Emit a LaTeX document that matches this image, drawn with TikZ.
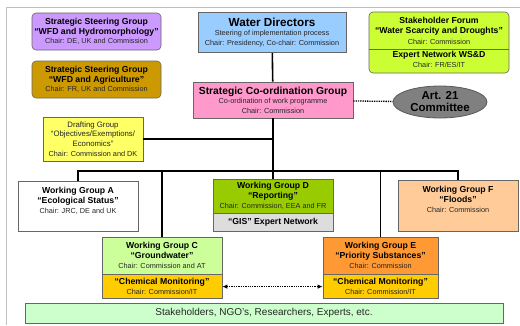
\documentclass[tikz,border=0pt]{standalone}
\usepackage{fontspec}
\setmainfont{Liberation Sans}
\usetikzlibrary{arrows.meta,shapes.geometric}

\definecolor{ssgviolet}{HTML}{CC99FF}
\definecolor{ssggold}{HTML}{CC9900}
\definecolor{wdblue}{HTML}{99CCFF}
\definecolor{sflime}{HTML}{CCFF33}
\definecolor{scgpink}{HTML}{FF99CC}
\definecolor{artgray}{HTML}{808080}
\definecolor{dgyellow}{HTML}{FFFF66}
\definecolor{wgdgreen}{HTML}{99CC00}
\definecolor{gisgray}{HTML}{DDDDDD}
\definecolor{wgfpeach}{HTML}{FFCC99}
\definecolor{wgcgreen}{HTML}{CCFF99}
\definecolor{wgeorange}{HTML}{FF9933}
\definecolor{chemgold}{HTML}{FFCC00}
\definecolor{stkgreen}{HTML}{CCFFCC}

\tikzset{
  grp/.style={draw=gray!80!black, line width=.6pt, align=center, inner sep=1pt,
    text=black!85, font=\fontsize{7.3}{9.7}\selectfont},
  link/.style={line width=1.6pt},
  dotlink/.style={line width=1.3pt, densely dotted},
}
\newcommand{\hd}[1]{{\fontsize{8.7}{10}\selectfont\bfseries\color{black}#1}}

\begin{document}
\begin{tikzpicture}[x=1pt,y=-1pt,>={Latex[length=5pt,width=4.5pt]}]
\useasboundingbox (0,0) rectangle (520,325);
\draw[black!25,line width=.8pt] (520,7) -- (6,7) -- (6,325);

\node[grp,rounded corners=4pt,fill=ssgviolet,minimum width=129pt,minimum height=37pt] (ssgh) at (96.5,31.5)
  {\hd{Strategic Steering Group}\\\hd{“WFD and Hydromorphology”}\\Chair: DE, UK and Commission};
\node[grp,rounded corners=4pt,fill=ssggold,minimum width=129pt,minimum height=37pt] (ssga) at (96.5,79.5)
  {\hd{Strategic Steering Group}\\\hd{“WFD and Agriculture”}\\Chair: FR, UK and Commission};
\node[grp,fill=wdblue,minimum width=148pt,minimum height=40pt] (wd) at (272,32.5)
  {{\fontsize{11.7}{13}\selectfont\bfseries\color{black}Water Directors}\\Steering of implementation process\\Chair: Presidency, Co-chair: Commission};
\node[grp,rounded corners=4pt,fill=sflime,minimum width=140pt,minimum height=61pt,font=\fontsize{7.3}{10.3}\selectfont] (sf) at (439,42.5)
  {\hd{Stakeholder Forum}\\\hd{“Water Scarcity and Droughts”}\\Chair: Commission\\[3pt]\hd{Expert Network WS\&D}\\Chair: FR/ES/IT};
\draw[draw=gray!80!black,line width=.6pt] ([yshift=-38pt]sf.north west) -- ([yshift=-38pt]sf.north east);
\node[grp,fill=scgpink,minimum width=160pt,minimum height=36pt] (scg) at (273,100)
  {{\fontsize{10.3}{12}\selectfont\bfseries\color{black}Strategic Co-ordination Group}\\Co-ordination of work programme\\Chair: Commission};
\node[ellipse,draw=black!65,line width=.8pt,fill=artgray,minimum width=94pt,minimum height=32pt,inner sep=0pt,
  align=center,font=\fontsize{11.5}{12}\selectfont\bfseries] (art) at (440,102) {Art. 21\\Committee};
\node[grp,fill=dgyellow,minimum width=100pt,minimum height=44pt,font=\fontsize{7.8}{9.7}\selectfont] (dg) at (93,139)
  {Drafting Group\\“Objectives/Exemptions/\\Economics”\\{\fontsize{7.3}{9.7}\selectfont Chair: Commission and DK}};

\node[grp,fill=white,minimum width=120pt,minimum height=50pt] (wga) at (78,206)
  {\hd{Working Group A}\\\hd{“Ecological Status”}\\Chair: JRC, DE and UK\\[2pt]\mbox{}};
\node[grp,fill=wgdgreen,minimum width=120pt,minimum height=34pt] (wgd) at (273,196)
  {\hd{Working Group D}\\\hd{“Reporting”}\\Chair: Commission, EEA and FR};
\node[grp,fill=gisgray,minimum width=120pt,minimum height=18pt,anchor=north] (gis) at (wgd.south)
  {\hd{“GIS” Expert Network}};
\node[grp,fill=wgfpeach,minimum width=120pt,minimum height=51pt] (wgf) at (458,205.5)
  {\hd{Working Group F}\\\hd{“Floods”}\\Chair: Commission\\[3pt]\mbox{}};
\node[grp,fill=wgcgreen,minimum width=120pt,minimum height=37pt] (wgc) at (162,255.5)
  {\hd{Working Group C}\\\hd{“Groundwater”}\\Chair: Commission and AT};
\node[grp,fill=chemgold,minimum width=120pt,minimum height=24pt,anchor=north] (wgcm) at (wgc.south)
  {\hd{“Chemical Monitoring”}\\Chair: Commission/IT};
\node[grp,fill=wgeorange,minimum width=115pt,minimum height=37pt] (wge) at (380.5,255.5)
  {\hd{Working Group E}\\\hd{“Priority Substances”}\\Chair: Commission};
\node[grp,fill=chemgold,minimum width=115pt,minimum height=24pt,anchor=north] (wgem) at (wge.south)
  {\hd{“Chemical Monitoring”}\\Chair: Commission/IT};
\node[grp,fill=stkgreen,minimum width=478pt,minimum height=20pt,font=\fontsize{10}{12}\selectfont] (stk) at (264,313)
  {Stakeholders, NGO's, Researchers, Experts, etc.};

\coordinate (bus) at (273,171);
\draw[link] (wd) -- (scg);
\draw[link] (scg) -- (bus);
\draw[link] (dg.east) -- (dg.east -| bus);
\draw[link] (wga.north) |- (bus) -| (wgf.north);
\draw[link] (wgc.north) -- (wgc.north |- bus);
\draw[link] (wgd.north) -- (bus);
\draw[link] (wge.north) -- (wge.north |- bus);
\draw[dotlink] (scg) -- (art);
\draw[dotlink,<->] (wgcm) -- (wgem);
\end{tikzpicture}
\end{document}
